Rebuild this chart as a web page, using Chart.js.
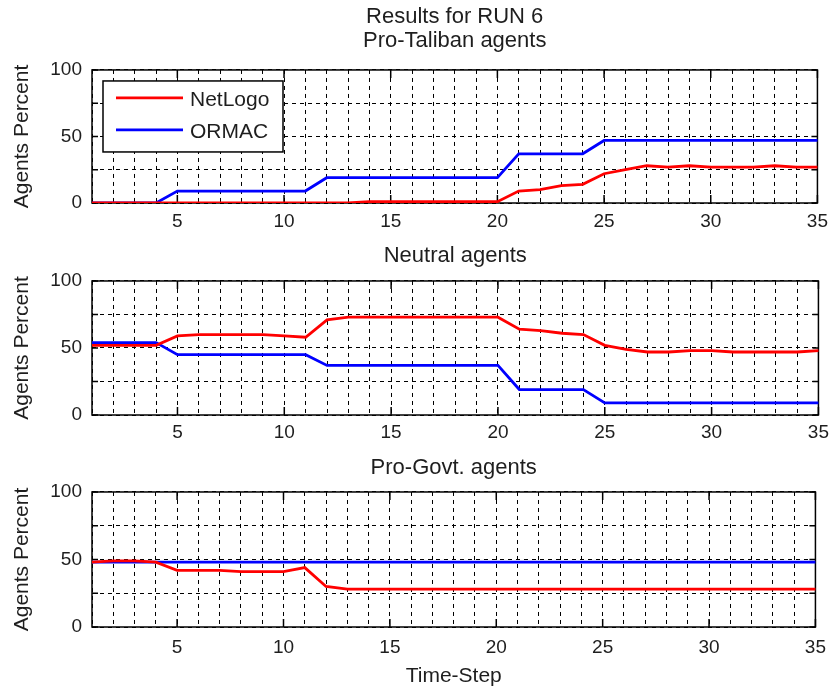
<!DOCTYPE html>
<html>
<head>
<meta charset="utf-8">
<title>Results for RUN 6</title>
<script src="https://cdn.jsdelivr.net/npm/chart.js@4.4.1/dist/chart.umd.min.js"></script>
<style>
  body { margin: 0; background: #fff; }
  #wrap { position: relative; width: 835px; height: 692px; }
  canvas { position: absolute; left: 0; }
</style>
</head>
<body>
<div id="wrap">
  <canvas id="proTaliban" width="835" height="235" style="top:0px"></canvas>
  <canvas id="neutral" width="835" height="212" style="top:230px"></canvas>
  <canvas id="proGovt" width="835" height="252" style="top:440px"></canvas>
</div>
<script>
// time steps on the x axis
const timeSteps = [1, 2, 3, 4, 5, 6, 7, 8, 9, 10, 11, 12, 13, 14, 15, 16, 17, 18,
  19, 20, 21, 22, 23, 24, 25, 26, 27, 28, 29, 30, 31, 32, 33, 34, 35];
const xTickLabels = [5, 10, 15, 20, 25, 30, 35];
const yTickLabels = [0, 50, 100];

// Pro-Taliban agents (%)
const proTalibanNetLogo = [0, 0, 0, 0, 0, 0, 0, 0, 0, 0, 0, 0, 0, 1, 1, 1, 1, 1,
  1, 1, 9, 10, 13, 14, 22, 25, 28, 27, 28, 27, 27, 27, 28, 27, 27];
const proTalibanOrmac = [0, 0, 0, 0, 9, 9, 9, 9, 9, 9, 9, 19, 19, 19, 19, 19, 19, 19,
  19, 19, 37, 37, 37, 37, 47, 47, 47, 47, 47, 47, 47, 47, 47, 47, 47];

// Neutral agents (%)
const neutralNetLogo = [52, 52, 52, 52, 59, 60, 60, 60, 60, 59, 58, 71, 73, 73, 73, 73, 73, 73,
  73, 73, 64, 63, 61, 60, 52, 49, 47, 47, 48, 48, 47, 47, 47, 47, 48];
const neutralOrmac = [54, 54, 54, 54, 45, 45, 45, 45, 45, 45, 45, 37, 37, 37, 37, 37, 37, 37,
  37, 37, 19, 19, 19, 19, 9, 9, 9, 9, 9, 9, 9, 9, 9, 9, 9];

// Pro-Govt. agents (%)
const proGovtNetLogo = [48, 49, 49, 48, 42, 42, 42, 41, 41, 41, 44, 30, 28, 28, 28, 28, 28, 28,
  28, 28, 28, 28, 28, 28, 28, 28, 28, 28, 28, 28, 28, 28, 28, 28, 28];
const proGovtOrmac = [48, 48, 48, 48, 48, 48, 48, 48, 48, 48, 48, 48, 48, 48, 48, 48, 48, 48,
  48, 48, 48, 48, 48, 48, 48, 48, 48, 48, 48, 48, 48, 48, 48, 48, 48];

const FONT = '"Liberation Sans", Arial, Helvetica, sans-serif';
const TEXT = '#1e1e1e';
Chart.defaults.font.family = FONT;
Chart.defaults.color = TEXT;

// black box round the plot with short inward tick marks
const axesBox = {
  id: 'axesBox',
  beforeDatasetsDraw(chart) {
    const { ctx, chartArea: a, scales: { x, y } } = chart;
    ctx.save();
    ctx.strokeStyle = '#000';
    ctx.lineWidth = 1.5;
    ctx.strokeRect(a.left, a.top, a.width, a.height);
    ctx.beginPath();
    timeSteps.forEach((t, i) => {
      if (!xTickLabels.includes(t)) return;
      const px = x.getPixelForValue(i);
      ctx.moveTo(px, a.bottom); ctx.lineTo(px, a.bottom - 8);
      ctx.moveTo(px, a.top); ctx.lineTo(px, a.top + 8);
    });
    [0, 25, 50, 75, 100].forEach(v => {
      const py = y.getPixelForValue(v);
      ctx.moveTo(a.left, py); ctx.lineTo(a.left + 6, py);
      ctx.moveTo(a.right, py); ctx.lineTo(a.right - 6, py);
    });
    ctx.stroke();
    ctx.restore();
  }
};

// boxed legend in the upper left corner of the plot
const boxLegend = {
  id: 'boxLegend',
  afterDatasetsDraw(chart, args, opts) {
    if (!opts.show) return;
    const { ctx, chartArea: a } = chart;
    const x0 = a.left + 11, y0 = a.top + 11, w = 180, h = 71;
    ctx.save();
    ctx.fillStyle = '#fff';
    ctx.fillRect(x0, y0, w, h);
    ctx.strokeStyle = '#000';
    ctx.lineWidth = 1.5;
    ctx.strokeRect(x0, y0, w, h);
    chart.data.datasets.forEach((ds, i) => {
      const cy = y0 + 17 + i * 32;
      ctx.strokeStyle = ds.borderColor;
      ctx.lineWidth = 2.8;
      ctx.beginPath();
      ctx.moveTo(x0 + 13, cy);
      ctx.lineTo(x0 + 80, cy);
      ctx.stroke();
      ctx.fillStyle = TEXT;
      ctx.font = '21px ' + FONT;
      ctx.textBaseline = 'middle';
      ctx.fillText(ds.label, x0 + 87, cy + 2);
    });
    ctx.restore();
  }
};

function makePanel(id, title, netLogo, ormac, cfg) {
  return new Chart(document.getElementById(id), {
    type: 'line',
    data: {
      labels: timeSteps,
      datasets: [
        { label: 'NetLogo', data: netLogo, borderColor: '#ff0000', backgroundColor: '#ff0000',
          borderWidth: 2.8, pointRadius: 0, tension: 0 },
        { label: 'ORMAC', data: ormac, borderColor: '#0000ff', backgroundColor: '#0000ff',
          borderWidth: 2.8, pointRadius: 0, tension: 0 }
      ]
    },
    options: {
      responsive: false,
      animation: false,
      layout: { padding: { left: 0, right: 15, top: 0, bottom: 0 } },
      plugins: {
        legend: { display: false },
        tooltip: { enabled: false },
        title: {
          display: true,
          fullSize: false,
          text: title,
          color: TEXT,
          font: { size: 22, weight: 'normal', lineHeight: 1.09 },
          padding: cfg.titlePad
        },
        boxLegend: { show: !!cfg.legend }
      },
      scales: {
        x: {
          ticks: {
            autoSkip: false,
            maxRotation: 0,
            padding: cfg.xTickPad,
            color: TEXT,
            font: { size: 19 },
            callback: function (v) {
              const t = this.getLabelForValue(v);
              return xTickLabels.includes(t) ? String(t) : '';
            }
          },
          grid: { color: '#000', lineWidth: 1, drawTicks: false },
          border: { display: false, dash: [4, 4] },
          title: {
            display: !!cfg.xTitle,
            text: 'Time-Step',
            color: TEXT,
            font: { size: 21 },
            padding: { top: 0, bottom: 3 }
          },
          afterFit: s => { s.height = cfg.xHeight; }
        },
        y: {
          min: 0,
          max: 100,
          ticks: {
            stepSize: 25,
            padding: 10,
            color: TEXT,
            font: { size: 19 },
            callback: v => (yTickLabels.includes(v) ? String(v) : '')
          },
          grid: { color: '#000', lineWidth: 1, drawTicks: false },
          border: { display: false, dash: [4, 4] },
          title: {
            display: true,
            text: 'Agents Percent',
            color: TEXT,
            font: { size: 21 },
            padding: { top: 10, bottom: 0 }
          },
          afterFit: s => { s.width = 92; }
        }
      }
    },
    plugins: [axesBox, boxLegend]
  });
}

makePanel('proTaliban', ['Results for RUN 6', 'Pro-Taliban agents'],
  proTalibanNetLogo, proTalibanOrmac,
  { titlePad: { top: 5.4, bottom: 16.6 }, xTickPad: 7, xHeight: 32, legend: true });

makePanel('neutral', 'Neutral agents', neutralNetLogo, neutralOrmac,
  { titlePad: { top: 14.4, bottom: 12.6 }, xTickPad: 6, xHeight: 27 });

makePanel('proGovt', 'Pro-Govt. agents', proGovtNetLogo, proGovtOrmac,
  { titlePad: { top: 16.4, bottom: 11.6 }, xTickPad: 9, xHeight: 65, xTitle: true });
</script>
</body>
</html>
